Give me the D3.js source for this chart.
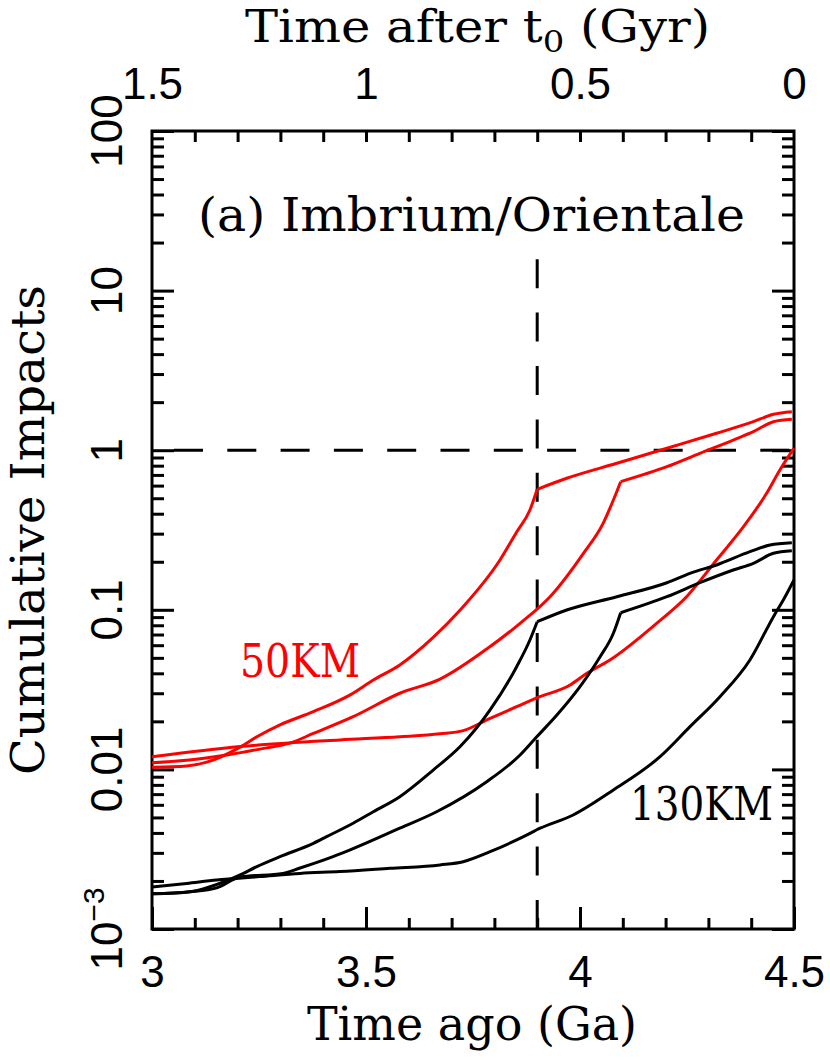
<!DOCTYPE html>
<html><head><meta charset="utf-8">
<script src="https://cdn.jsdelivr.net/npm/d3@7"></script>
<style>body{margin:0;background:#fff}</style>
</head><body>
<svg id="c" width="830" height="1063"></svg>
<script>
// ---- data: [time ago (Ga), cumulative impacts] ----
const red50_imb = [[3.0,0.0103],[3.081,0.0105],[3.128,0.0111],[3.206,0.0138],[3.245,0.0160],[3.299,0.0190],[3.377,0.0230],[3.463,0.0293],[3.517,0.0363],[3.579,0.0451],[3.657,0.0671],[3.720,0.0997],[3.813,0.2051],[3.852,0.3073],[3.883,0.4220],[3.9,0.569],[3.969,0.667],[4.086,0.828],[4.203,1.028],[4.319,1.276],[4.405,1.509],[4.452,1.679],[4.495,1.743]];
const red50_ori = [[3.0,0.0110],[3.081,0.0114],[3.175,0.0123],[3.252,0.0134],[3.322,0.0146],[3.377,0.0168],[3.470,0.0214],[3.579,0.0300],[3.673,0.0368],[3.782,0.0568],[3.860,0.0823],[3.930,0.1208],[4.008,0.2259],[4.054,0.3483],[4.078,0.4875],[4.095,0.635],[4.203,0.788],[4.280,0.956],[4.358,1.158],[4.405,1.306],[4.452,1.509],[4.495,1.562]];
const red50_smooth = [[3.0,0.0120],[3.206,0.0139],[3.439,0.0153],[3.579,0.0160],[3.673,0.0167],[3.727,0.0175],[3.790,0.0209],[3.852,0.0247],[3.899,0.0281],[3.977,0.0338],[4.016,0.0400],[4.070,0.0485],[4.179,0.0823],[4.249,0.1208],[4.319,0.2051],[4.382,0.3317],[4.436,0.537],[4.467,0.7515],[4.5,1.03]];
const blk130_imb = [[3.0,0.00166],[3.089,0.00171],[3.136,0.00184],[3.206,0.00218],[3.245,0.00246],[3.299,0.00284],[3.377,0.00344],[3.408,0.00379],[3.470,0.00460],[3.517,0.00543],[3.579,0.00675],[3.657,0.00991],[3.720,0.0139],[3.790,0.0236],[3.852,0.0440],[3.883,0.0647],[3.9,0.0842],[3.969,0.0997],[4.086,0.1208],[4.203,0.1478],[4.257,0.1693],[4.319,0.1909],[4.397,0.2312],[4.444,0.2547],[4.495,0.2633]];
const blk130_ori = [[3.0,0.00166],[3.089,0.00171],[3.151,0.00181],[3.206,0.00212],[3.306,0.00223],[3.346,0.00241],[3.423,0.00284],[3.463,0.00313],[3.579,0.00428],[3.665,0.00543],[3.782,0.00837],[3.860,0.0123],[3.899,0.0160],[3.946,0.0219],[4.000,0.0330],[4.047,0.0508],[4.078,0.0713],[4.095,0.0959],[4.203,0.1208],[4.280,0.1478],[4.358,0.1776],[4.405,0.1956],[4.452,0.2259],[4.495,0.2346]];
const blk130_smooth = [[3.0,0.00183],[3.081,0.00193],[3.151,0.00203],[3.252,0.00213],[3.346,0.00223],[3.439,0.00229],[3.556,0.00240],[3.673,0.00252],[3.727,0.00264],[3.790,0.00305],[3.868,0.00379],[3.907,0.00428],[3.984,0.00518],[4.078,0.00743],[4.187,0.01201],[4.257,0.01852],[4.327,0.02855],[4.397,0.0485],[4.452,0.0906],[4.475,0.1152],[4.5,0.154]];

const bottomTicks = [3, 3.5, 4, 4.5];
const bottomTickLabels = ["3", "3.5", "4", "4.5"];
const topTicks = [1.5, 1, 0.5, 0];
const topTickLabels = ["1.5", "1", "0.5", "0"];
const yTicks = [0.001, 0.01, 0.1, 1, 10, 100];
const yTickLabels = ["10|−3", "0.01", "0.1", "1", "10", "100"];
const imbriumAge = 3.9;
const orientaleAge = 4.095;
const unitLevel = 1;

// ---- layout ----
const L = 152, R = 794, T = 131, B = 929;
const svg = d3.select("#c");
const x = d3.scaleLinear().domain([3, 4.5]).range([L, R]);
const xTop = d3.scaleLinear().domain([1.5, 0]).range([L, R]);
const y = d3.scaleLog().domain([1e-3, 100]).range([B, T]);

const minorX = d3.range(31, 45).map(v => v / 10).filter(v => !bottomTicks.some(b => Math.abs(b - v) < 1e-9));
const minorXTop = d3.range(1, 15).map(v => v / 10);
const minorY = [];
for (let e = -3; e < 2; e++) for (let m = 2; m <= 9; m++) minorY.push(m * Math.pow(10, e));

function styleAxis(g) {
  g.select(".domain").remove();
  g.selectAll("line").attr("stroke", "#000").attr("stroke-width", 3);
}
const numFont = "'Liberation Sans', Arial, sans-serif";
const serif = "'DejaVu Serif', serif";

// bottom axis
svg.append("g").attr("transform", `translate(0,${B})`)
  .call(d3.axisBottom(x).tickValues(minorX).tickSize(-11).tickSizeOuter(0).tickFormat(""))
  .call(styleAxis);
const gb = svg.append("g").attr("transform", `translate(0,${B})`)
  .call(d3.axisBottom(x).tickValues(bottomTicks).tickSize(-22).tickSizeOuter(0)
    .tickFormat((d, i) => bottomTickLabels[i]))
  .call(styleAxis);
gb.selectAll("text").attr("y", 58).attr("dy", 0).attr("font-size", 44)
  .attr("font-family", numFont).attr("fill", "#000");

// top axis
svg.append("g").attr("transform", `translate(0,${T})`)
  .call(d3.axisTop(xTop).tickValues(minorXTop).tickSize(-11).tickSizeOuter(0).tickFormat(""))
  .call(styleAxis);
const gt = svg.append("g").attr("transform", `translate(0,${T})`)
  .call(d3.axisTop(xTop).tickValues(topTicks).tickSize(0).tickSizeOuter(0)
    .tickFormat((d, i) => topTickLabels[i]))
  .call(styleAxis);
gt.selectAll("text").attr("y", -32).attr("dy", 0).attr("font-size", 44)
  .attr("font-family", numFont).attr("fill", "#000");

// left / right axes
[[L, d3.axisLeft], [R, d3.axisRight]].forEach(([px, ax]) => {
  svg.append("g").attr("transform", `translate(${px},0)`)
    .call(ax(y).tickValues(minorY).tickSize(-12).tickSizeOuter(0).tickFormat(""))
    .call(styleAxis);
  svg.append("g").attr("transform", `translate(${px},0)`)
    .call(ax(y).tickValues(yTicks).tickSize(-22).tickSizeOuter(0).tickFormat(""))
    .call(styleAxis);
});

// left tick labels (rotated)
const yl = svg.append("g").attr("font-family", numFont).attr("font-size", 44).attr("fill", "#000");
yTicks.forEach((v, i) => {
  const t = yl.append("text")
    .attr("transform", `translate(${L - 30},${y(v)}) rotate(-90)`)
    .attr("text-anchor", "middle");
  const lab = yTickLabels[i];
  if (lab.includes("|")) {
    const [b, e] = lab.split("|");
    t.append("tspan").text(b);
    t.append("tspan").attr("font-size", 30).attr("dy", -18).text(e);
  } else t.text(lab);
});

// frame
svg.append("rect").attr("x", L).attr("y", T).attr("width", R - L).attr("height", B - T)
  .attr("fill", "none").attr("stroke", "#000").attr("stroke-width", 3);

// reference dashed lines
const straight = d3.line().x(d => x(d[0])).y(d => y(d[1]));
svg.append("path").datum([[3, unitLevel], [4.5, unitLevel]]).attr("d", straight)
  .attr("fill", "none").attr("stroke", "#000").attr("stroke-width", 3)
  .attr("stroke-dasharray", "29,24.3").attr("stroke-dashoffset", 31.3);
svg.append("path").datum([[imbriumAge, 1e-3], [imbriumAge, Math.pow(10, 1.2)]]).attr("d", straight)
  .attr("fill", "none").attr("stroke", "#000").attr("stroke-width", 3)
  .attr("stroke-dasharray", "29,24.4");

// curves (smooth pieces, sharp corner at the basin-forming impact)
const smooth = d3.line().x(d => x(d[0])).y(d => y(d[1])).curve(d3.curveMonotoneX);
function pieces(d, corner) {
  if (corner == null) return [d];
  const k = d.findIndex(p => Math.abs(p[0] - corner) < 1e-9);
  return [d.slice(0, k + 1), d.slice(k)];
}
const series = [
  [red50_imb, "#ff0000", imbriumAge], [red50_ori, "#ff0000", orientaleAge], [red50_smooth, "#ff0000", null],
  [blk130_imb, "#000", imbriumAge], [blk130_ori, "#000", orientaleAge], [blk130_smooth, "#000", null]
];
series.forEach(([d, c, k]) => {
  pieces(d, k).forEach(p => {
    svg.append("path").datum(p).attr("d", smooth).attr("fill", "none")
      .attr("stroke", c).attr("stroke-width", 3).attr("stroke-linejoin", "round");
  });
});

// labels
svg.append("text").attr("x", 240).attr("y", 677).attr("font-family", serif).attr("font-size", 46)
  .attr("fill", "#ff0000").attr("textLength", 120).attr("lengthAdjust", "spacingAndGlyphs").text("50KM");
svg.append("text").attr("x", 630).attr("y", 820).attr("font-family", serif).attr("font-size", 46)
  .attr("fill", "#000").attr("textLength", 143).attr("lengthAdjust", "spacingAndGlyphs").text("130KM");
svg.append("text").attr("x", 198).attr("y", 231)
  .attr("font-family", serif).attr("font-size", 47).attr("fill", "#000")
  .attr("textLength", 547).attr("lengthAdjust", "spacingAndGlyphs").text("(a) Imbrium/Orientale");

// axis titles
svg.append("text").attr("x", 472).attr("y", 1040).attr("text-anchor", "middle")
  .attr("font-family", serif).attr("font-size", 46).text("Time ago (Ga)");
const tt = svg.append("text").attr("x", 245).attr("y", 42)
  .attr("font-family", serif).attr("font-size", 44)
  .attr("textLength", 465).attr("lengthAdjust", "spacingAndGlyphs");
tt.append("tspan").text("Time after t");
tt.append("tspan").attr("font-size", 30).attr("dy", 10).text("0");
tt.append("tspan").attr("dy", -10).text(" (Gyr)");
svg.append("text").attr("transform", `translate(44,530) rotate(-90)`).attr("text-anchor", "middle")
  .attr("font-family", serif).attr("font-size", 46)
  .attr("textLength", 490).attr("lengthAdjust", "spacingAndGlyphs").text("Cumulative Impacts");
</script>
</body></html>
